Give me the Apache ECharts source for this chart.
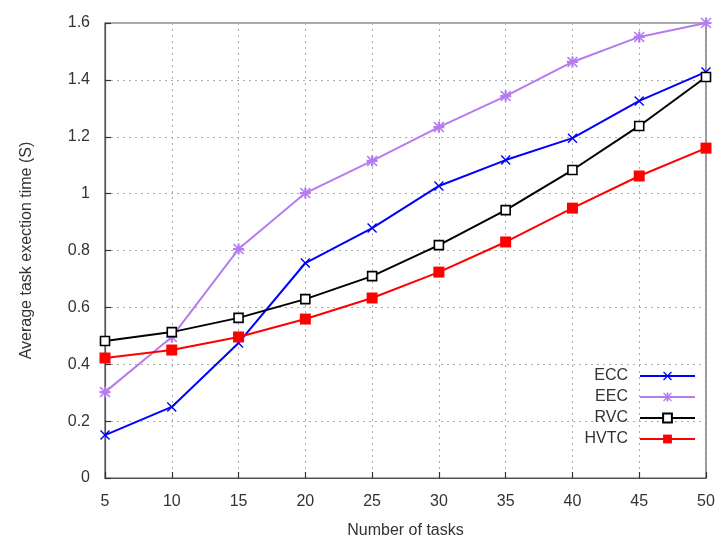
<!DOCTYPE html>
<html>
<head>
<meta charset="utf-8">
<script src="https://cdn.jsdelivr.net/npm/echarts@6/dist/echarts.min.js"></script>
<style>
  html, body { margin: 0; padding: 0; background: #fff; }
  #chart { width: 718px; height: 538px; }
</style>
</head>
<body>
<div id="chart"></div>
<script>
// Number of tasks on the x axis
const taskCounts = [5, 10, 15, 20, 25, 30, 35, 40, 45, 50];

// Average execution time (s) per scheme
const eccValues  = [0.151, 0.250, 0.475, 0.756, 0.879, 1.027, 1.118, 1.195, 1.326, 1.428];
const eecValues  = [0.302, 0.496, 0.805, 1.002, 1.115, 1.234, 1.343, 1.463, 1.551, 1.600];
const rvcValues  = [0.482, 0.513, 0.563, 0.629, 0.710, 0.819, 0.942, 1.083, 1.238, 1.410];
const hvtcValues = [0.422, 0.450, 0.496, 0.559, 0.633, 0.724, 0.830, 0.949, 1.062, 1.160];

const seriesNames = ['ECC', 'EEC', 'RVC', 'HVTC'];

// Marker shapes
const crossPath = 'path://M0,1L1,0L5,4L9,0L10,1L6,5L10,9L9,10L5,6L1,10L0,9L4,5Z';
const starPath = 'path://M0,1L1,0L5,4L9,0L10,1L6,5L10,9L9,10L5,6L1,10L0,9L4,5Z' +
                 'M4,0L6,0L6,4L10,4L10,6L6,6L6,10L4,10L4,6L0,6L0,4L4,4Z';

const font = 'Liberation Sans, Arial, sans-serif';
const textColor = '#333';
const pairs = vals => taskCounts.map((x, i) => [x, vals[i]]);

const chart = echarts.init(document.getElementById('chart'), null, { renderer: 'canvas' });

chart.setOption({
  animation: false,
  backgroundColor: '#fff',
  grid: {
    left: 105, right: 12, top: 23, bottom: 60,
    outerBoundsMode: 'none',
    containLabel: false,
    show: true, borderColor: '#555', borderWidth: 1.2, backgroundColor: 'transparent'
  },
  legend: {
    orient: 'vertical',
    right: 22,
    top: 368,
    padding: 0,
    align: 'right',
    itemWidth: 55,
    itemHeight: 11,
    itemGap: 5,
    textStyle: { fontFamily: font, fontSize: 16, color: textColor, padding: [0, 7, 0, 0] },
    data: seriesNames
  },
  xAxis: {
    type: 'value',
    min: 5, max: 50, interval: 5,
    name: 'Number of tasks',
    nameLocation: 'middle',
    nameGap: 45,
    nameTextStyle: { fontFamily: font, fontSize: 16, color: textColor },
    axisLine: { show: true, lineStyle: { color: '#555', width: 1.2 } },
    axisTick: { show: true, inside: true, length: 6, lineStyle: { color: '#333', width: 1.2 } },
    axisLabel: { fontFamily: font, fontSize: 16, color: textColor, margin: 16 },
    splitLine: { show: true, lineStyle: { color: '#aaa', type: [2, 4], width: 1 } }
  },
  yAxis: {
    type: 'value',
    min: 0, max: 1.6, interval: 0.2,
    name: 'Average task exection time (S)',
    nameLocation: 'middle',
    nameGap: 70,
    nameTextStyle: { fontFamily: font, fontSize: 16, color: textColor },
    axisLine: { show: true, lineStyle: { color: '#555', width: 1.2 } },
    axisTick: { show: true, inside: true, length: 6, lineStyle: { color: '#333', width: 1.2 } },
    axisLabel: { fontFamily: font, fontSize: 16, color: textColor, margin: 15 },
    splitLine: { show: true, lineStyle: { color: '#aaa', type: [2, 4], width: 1 } }
  },
  series: [
    {
      name: 'ECC', type: 'line', data: pairs(eccValues),
      symbol: crossPath, symbolSize: 10,
      itemStyle: { color: '#0000ff' },
      lineStyle: { color: '#0000ff', width: 2 }
    },
    {
      name: 'EEC', type: 'line', data: pairs(eecValues),
      symbol: starPath, symbolSize: 11,
      itemStyle: { color: '#b57cf0' },
      lineStyle: { color: '#b57cf0', width: 2 }
    },
    {
      name: 'RVC', type: 'line', data: pairs(rvcValues),
      symbol: 'rect', symbolSize: 9,
      itemStyle: { color: '#ffffff', borderColor: '#000000', borderWidth: 1.6 },
      lineStyle: { color: '#000000', width: 2 }
    },
    {
      name: 'HVTC', type: 'line', data: pairs(hvtcValues),
      symbol: 'rect', symbolSize: 11,
      itemStyle: { color: '#ff0000' },
      lineStyle: { color: '#ff0000', width: 2 }
    }
  ]
});
</script>
</body>
</html>
